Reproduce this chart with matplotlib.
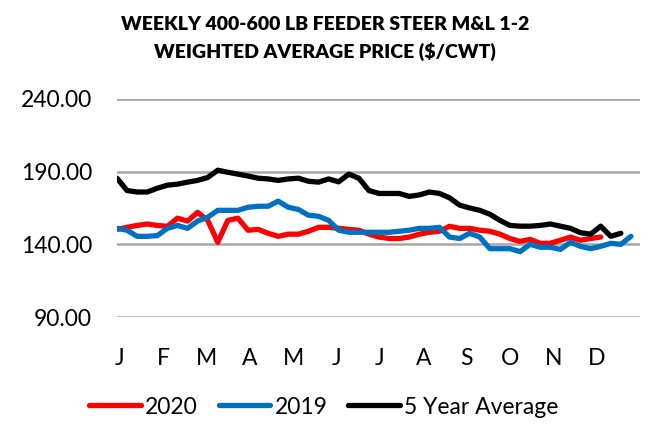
import matplotlib
matplotlib.use("Agg")
from matplotlib import pyplot as plt

months = ["J", "F", "M", "A", "M", "J", "J", "A", "S", "O", "N", "D"]
y_ticks = [90, 140, 190, 240]

# weekly prices, $/cwt
price_2020 = [150.3, 151.7, 153.0, 154.0, 153.0, 152.4, 158.0, 156.0, 162.0, 156.5,
              141.4, 156.5, 158.0, 149.7, 150.3, 147.6, 145.5, 147.0, 147.0, 149.0,
              151.7, 151.7, 151.0, 150.3, 149.7, 147.0, 145.0, 144.0, 144.0, 145.0,
              147.0, 148.3, 149.0, 152.4, 151.0, 151.0, 149.7, 149.0, 147.0, 144.0,
              142.0, 143.4, 140.7, 140.7, 142.8, 145.0, 142.8, 144.0, 145.0]
price_2019 = [151.0, 149.7, 145.5, 145.5, 146.0, 151.0, 153.0, 151.0, 156.0, 158.6,
              163.4, 163.4, 163.4, 165.5, 166.2, 166.2, 169.7, 165.5, 164.0, 160.0,
              159.3, 156.5, 149.7, 148.3, 148.3, 148.3, 148.3, 148.3, 149.0, 149.7,
              151.0, 151.0, 151.7, 145.0, 144.0, 147.6, 145.0, 137.0, 137.0, 137.0,
              135.0, 140.0, 138.0, 138.0, 136.5, 141.4, 138.6, 137.0, 138.6, 140.7,
              140.0, 145.5]
price_5yr = [185.5, 177.0, 176.0, 176.0, 178.6, 180.7, 181.4, 182.8, 184.0, 186.0,
             191.0, 189.6, 188.3, 187.0, 185.5, 185.0, 184.0, 185.0, 185.5, 183.4,
             182.8, 185.0, 183.0, 188.3, 185.5, 177.0, 175.0, 175.0, 175.0, 173.0,
             174.0, 176.0, 175.0, 172.0, 167.0, 165.0, 163.4, 160.7, 156.5, 153.0,
             152.5, 152.5, 153.0, 154.0, 152.5, 151.0, 148.0, 147.0, 152.5, 145.5,
             147.6]

plt.rcParams['font.family'] = ['Lato', 'DejaVu Sans']

fig = plt.figure(figsize=(6.52, 4.4), dpi=100)
ax = fig.add_axes([117/652, 1-317/440, (640-117)/652, (317-99)/440])

ax.plot(range(len(price_2020)), price_2020, color="#ff0000", lw=3.8, label="2020",
        solid_capstyle="round", solid_joinstyle="round")
ax.plot(range(len(price_2019)), price_2019, color="#0070c0", lw=3.8, label="2019",
        solid_capstyle="round", solid_joinstyle="round")
ax.plot(range(len(price_5yr)), price_5yr, color="#000000", lw=3.8, label="5 Year Average",
        solid_capstyle="round", solid_joinstyle="round")

ax.set_xlim(0, 51.9)
ax.set_ylim(90, 240)
ax.set_yticks(y_ticks)
ax.set_yticklabels([f"{v:.2f}" for v in y_ticks])
ax.set_xticks([0.3 + i*4.3 for i in range(12)])
ax.set_xticklabels(months)
ax.tick_params(axis="y", length=0, pad=18, labelsize=16.5)
ax.tick_params(axis="x", length=0, pad=22, labelsize=16.5)
ax.grid(axis="y", color="#a6a6a6", lw=1.8)
ax.set_axisbelow(True)
for s in ax.spines.values():
    s.set_visible(False)

fig.text(325/652, 1-25/440, "WEEKLY 400-600 LB FEEDER STEER M&L 1-2",
         ha="center", va="center", fontsize=14, fontweight="heavy")
fig.text(325/652, 1-52/440, "WEIGHTED AVERAGE PRICE ($/CWT)",
         ha="center", va="center", fontsize=14, fontweight="heavy")

fig.legend(loc="center", bbox_to_anchor=(324/652, 1-407/440), ncol=3, frameon=False,
           fontsize=16.5, handlelength=2.25, handletextpad=0.2, columnspacing=0.9)

fig.savefig("out.png", dpi=100)
